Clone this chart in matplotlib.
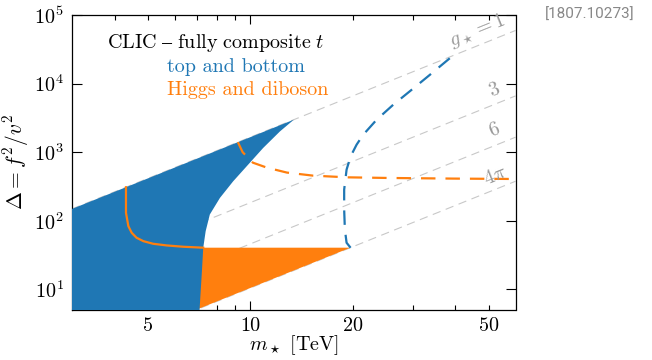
import numpy as np
import matplotlib
matplotlib.use("Agg")
import matplotlib.pyplot as plt
from matplotlib.ticker import NullLocator, LogFormatterSciNotation

plt.rcParams['font.family'] = ['cmr10', 'DejaVu Serif']
plt.rcParams['mathtext.fontset'] = 'cm'
plt.rcParams['axes.formatter.use_mathtext'] = True
plt.rcParams['axes.unicode_minus'] = False

BLUE = '#1f77b4'
ORANGE = '#ff7f0e'
GRAY = '#999999'
FS = 14.5

# ---------------- data ----------------
v_ew = 0.246  # TeV
gstar_values = [1.0, 3.0, 6.0, 4 * np.pi]
gstar_labels = [r'$g_\star = 1$', r'$3$', r'$6$', r'$4\pi$']
gstar_label_m = [46.2, 52.2, 52.2, 52.2]
gstar_label_D = [58000, 7900, 2050, 450]

# right boundary of the "top and bottom" excluded region (solid blue)
blue_bound_m = [7.10, 7.22, 7.28, 7.40, 7.61, 8.15, 8.91, 9.86, 10.91, 12.22, 13.43]
blue_bound_D = [5.0, 19.5, 40.4, 70.5, 123.3, 215.7, 376, 658, 1151, 2007, 2980]

# projected "top and bottom" reach (dashed blue)
blue_dash_m = [19.70, 19.17, 18.95, 18.86, 18.86, 19.17, 19.70, 20.51, 21.45,
               23.48, 26.26, 29.74, 33.64, 38.51]
blue_dash_D = [40.4, 47.8, 74.6, 145.8, 284.8, 556.6, 868.8, 1286, 1797,
               2970, 4909, 8113, 13410, 23460]

# "Higgs and diboson" bound (solid orange)
orange_m = [4.32, 4.32, 4.39, 4.49, 4.64, 4.86, 5.19, 5.68, 6.36, 7.28, 19.67]
orange_D = [308, 130.6, 83.4, 66.8, 56.5, 50.4, 46.2, 43.7, 41.8, 40.5, 40.5]

# "Higgs and diboson" projection (dashed orange)
orange_dash_m = [9.20, 9.50, 10.18, 11.19, 12.81, 15.28, 19.21, 25.2, 39.3, 57.7]
orange_dash_D = [1399, 1000, 703, 595, 504, 455, 430, 421, 412, 407]

x_ticks_major = [10]
x_ticks_minor = [4, 5, 6, 7, 8, 9, 20, 30, 40, 50]
x_minor_labels = ['', '5', '', '', '', '', '20', '', '', '50']

xlim = (3, 60)
ylim = (5, 1e5)


def delta_of(m, g):
    return (np.asarray(m) / (g * v_ew)) ** 2


# ---------------- figure ----------------
fig = plt.figure(figsize=(6.52, 3.60), dpi=100)
ax = fig.add_axes([72 / 652, 1 - 310 / 360, (515.5 - 72) / 652, (310 - 15) / 360])
ax.set_xscale('log')
ax.set_yscale('log')
ax.set_xlim(*xlim)
ax.set_ylim(*ylim)

# g* reference lines
m_line = np.array(xlim)
for g in gstar_values:
    ax.plot(m_line, delta_of(m_line, g), color='#c8c8c8', lw=0.8,
            dashes=(7.5, 5), zorder=1)

# orange filled region (excluded by Higgs + diboson), partly hidden by blue
m4pi_bottom = 4 * np.pi * v_ew * np.sqrt(ylim[0])
fill_om = orange_m + [m4pi_bottom]
fill_oD = orange_D + [ylim[0]]
ax.fill(fill_om, fill_oD, color=ORANGE, lw=0, zorder=2)

# blue filled region
top_D_left = float(delta_of(xlim[0], 1.0))
poly_m = [xlim[0], xlim[0]] + blue_bound_m[::-1]
poly_D = [ylim[0], top_D_left] + blue_bound_D[::-1]
ax.fill(poly_m, poly_D, color=BLUE, lw=0, zorder=3)

# solid orange line on top of blue
ax.plot(orange_m[:-1], orange_D[:-1], color=ORANGE, lw=1.6, zorder=4,
        solid_joinstyle='round')

# dashed projections
ax.plot(orange_dash_m, orange_dash_D, color=ORANGE, lw=1.6, dashes=(6.5, 4.5), zorder=5)
ax.plot(blue_dash_m, blue_dash_D, color=BLUE, lw=1.6, dashes=(6.5, 4.5), zorder=5)

# g* labels
for lab, lm, lD in zip(gstar_labels, gstar_label_m, gstar_label_D):
    ax.text(lm, lD, lab, color=GRAY, fontsize=FS, rotation=22,
            ha='center', va='center', rotation_mode='anchor', zorder=6)

# legend-like texts
ax.text(0.079, 0.905, r'$\mathrm{CLIC\ –\ fully\ composite}\ t$', transform=ax.transAxes,
        fontsize=FS, color='black', ha='left', va='center')
ax.text(0.214, 0.824, 'top and bottom', transform=ax.transAxes,
        fontsize=FS, color=BLUE, ha='left', va='center')
ax.text(0.214, 0.746, 'Higgs and diboson', transform=ax.transAxes,
        fontsize=FS, color=ORANGE, ha='left', va='center')

# axes styling
ax.set_xticks(x_ticks_major, labels=[str(t) for t in x_ticks_major])
ax.set_xticks(x_ticks_minor, labels=x_minor_labels, minor=True)
ax.yaxis.set_minor_locator(NullLocator())
ax.yaxis.set_major_formatter(LogFormatterSciNotation())
ax.tick_params(which='both', direction='in', top=True, right=True,
               labelsize=FS, width=0.8)
ax.tick_params(axis='x', which='major', length=6.5, pad=5)
ax.tick_params(axis='x', which='minor', length=3.5, pad=5)
ax.tick_params(axis='y', which='major', length=7, pad=6)
for s in ax.spines.values():
    s.set_linewidth(0.9)

ax.set_xlabel(r'$m_\star$ [TeV]', fontsize=FS, labelpad=-1)
ax.set_ylabel(r'$\Delta = f^2/v^2$', fontsize=15.5, labelpad=2)

fig.text(590 / 652, 1 - 15 / 360, '[1807.10273]', family=['Roboto', 'DejaVu Sans'],
         fontsize=11, color='#888888', ha='center', va='center')

fig.savefig('out.png', dpi=100)
